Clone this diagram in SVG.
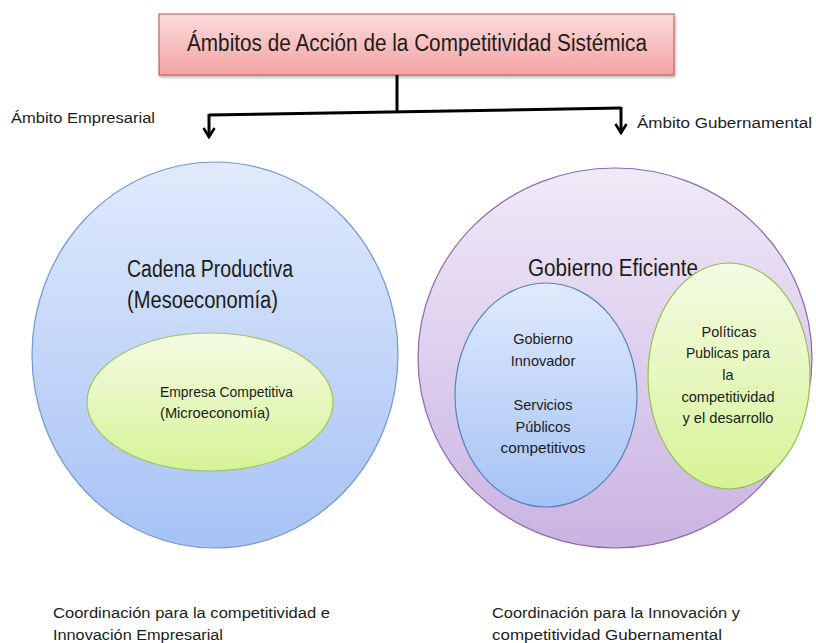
<svg xmlns="http://www.w3.org/2000/svg" width="816" height="643" viewBox="0 0 816 643">
<defs>
<style>
text{font-family:"Liberation Sans","Noto Sans",Arial,sans-serif;fill:#1c1c1c;}
.big{font-size:23px;}
.lbl{font-size:15.5px;}
.sm{font-size:14.5px;}
.mid{text-anchor:middle;}
.conn{fill:none;stroke:#000;stroke-width:3;stroke-linejoin:miter;}
</style>
<linearGradient id="gPink" x1="0" y1="0" x2="0" y2="1"><stop offset="0" stop-color="#fbdcdc"/><stop offset="1" stop-color="#f4a2a2"/></linearGradient>
<linearGradient id="gBlue" x1="0" y1="0" x2="0" y2="1"><stop offset="0" stop-color="#e0eafc"/><stop offset="1" stop-color="#a6c2f5"/></linearGradient>
<linearGradient id="gGreen" x1="0" y1="0" x2="0" y2="1"><stop offset="0" stop-color="#f4fbe4"/><stop offset="1" stop-color="#d6f396"/></linearGradient>
<linearGradient id="gPurple" x1="0" y1="0" x2="0" y2="1"><stop offset="0" stop-color="#f0eaf8"/><stop offset="1" stop-color="#cab3e2"/></linearGradient>
<marker id="arr" viewBox="0 0 14 14" refX="12" refY="7" markerWidth="14" markerHeight="14" markerUnits="userSpaceOnUse" orient="auto">
<path d="M3,1.5 L12,7 L3,12.5" fill="none" stroke="#000" stroke-width="2.6"/>
</marker>
<filter id="sh" x="-5%" y="-10%" width="110%" height="130%"><feDropShadow dx="1" dy="2" stdDeviation="1.5" flood-color="#000" flood-opacity="0.3"/></filter>
</defs>
<rect width="816" height="643" fill="#fff"/>

<g id="title">
<rect x="159" y="14" width="515" height="61" fill="url(#gPink)" stroke="#c0504d" stroke-width="1" filter="url(#sh)"/>
<text x="187" y="51" class="big" textLength="460" lengthAdjust="spacingAndGlyphs">Ámbitos de Acción de la Competitividad Sistémica</text>
</g>

<g id="connectors">
<path class="conn" d="M397,75 V112"/>
<path class="conn" d="M209,115 L621,108"/>
<path class="conn" d="M209,114 V137" marker-end="url(#arr)"/>
<path class="conn" d="M621,107 V133" marker-end="url(#arr)"/>
</g>

<g id="label-empresarial">
<text x="11" y="123" class="lbl" textLength="144" lengthAdjust="spacingAndGlyphs">Ámbito Empresarial</text>
</g>
<g id="label-gubernamental">
<text x="637" y="128" class="lbl" textLength="175" lengthAdjust="spacingAndGlyphs">Ámbito Gubernamental</text>
</g>

<g id="cadena">
<ellipse cx="215" cy="355" rx="183" ry="193" fill="url(#gBlue)" stroke="#7397d0" stroke-width="1.2"/>
<text x="127" y="277" class="big" textLength="166" lengthAdjust="spacingAndGlyphs">Cadena Productiva</text>
<text x="127" y="308" class="big" textLength="151" lengthAdjust="spacingAndGlyphs">(Mesoeconomía)</text>
</g>

<g id="empresa">
<ellipse cx="210" cy="402" rx="123" ry="69" fill="url(#gGreen)" stroke="#a3c45c" stroke-width="1.2"/>
<text x="160" y="397" class="sm" textLength="133" lengthAdjust="spacingAndGlyphs">Empresa Competitiva</text>
<text x="160" y="418" class="sm" textLength="110" lengthAdjust="spacingAndGlyphs">(Microeconomía)</text>
</g>

<g id="gobierno">
<ellipse cx="615" cy="358" rx="197" ry="190" fill="url(#gPurple)" stroke="#8a6aae" stroke-width="1.2"/>
<text x="528" y="276" class="big" textLength="170" lengthAdjust="spacingAndGlyphs">Gobierno Eficiente</text>
</g>

<g id="innovador">
<ellipse cx="546" cy="395" rx="91" ry="112" fill="url(#gBlue)" stroke="#5a80bf" stroke-width="1.2"/>
<text x="543" y="344" class="sm mid">Gobierno</text>
<text x="543" y="366" class="sm mid">Innovador</text>
<text x="543" y="410" class="sm mid">Servicios</text>
<text x="543" y="432" class="sm mid">Públicos</text>
<text x="543" y="453" class="sm mid" textLength="85" lengthAdjust="spacingAndGlyphs">competitivos</text>
</g>

<g id="politicas">
<ellipse cx="729" cy="376" rx="81" ry="113" fill="url(#gGreen)" stroke="#9bbb59" stroke-width="1.2"/>
<text x="729" y="337" class="sm mid">Políticas</text>
<text x="728" y="358" class="sm mid" textLength="84" lengthAdjust="spacingAndGlyphs">Publicas para</text>
<text x="728" y="380" class="sm mid">la</text>
<text x="728" y="402" class="sm mid" textLength="93" lengthAdjust="spacingAndGlyphs">competitividad</text>
<text x="728" y="423" class="sm mid" textLength="91" lengthAdjust="spacingAndGlyphs">y el desarrollo</text>
</g>

<g id="coord-empresarial">
<text x="53" y="618" class="lbl" textLength="277" lengthAdjust="spacingAndGlyphs">Coordinación para la competitividad e</text>
<text x="53" y="640" class="lbl" textLength="170" lengthAdjust="spacingAndGlyphs">Innovación Empresarial</text>
</g>
<g id="coord-gubernamental">
<text x="492" y="618" class="lbl" textLength="248" lengthAdjust="spacingAndGlyphs">Coordinación para la Innovación y</text>
<text x="492" y="640" class="lbl" textLength="230" lengthAdjust="spacingAndGlyphs">competitividad Gubernamental</text>
</g>
</svg>
